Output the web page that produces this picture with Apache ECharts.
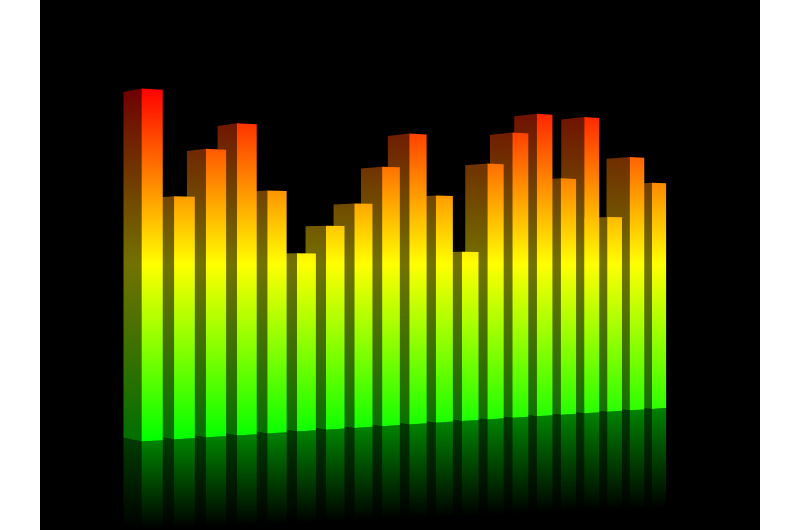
<!DOCTYPE html>
<html><head><meta charset="utf-8">
<style>html,body{margin:0;padding:0;background:#fff}#c{width:800px;height:530px}</style>
<script src="https://cdn.jsdelivr.net/npm/echarts@6/dist/echarts.min.js"></script>
</head><body><div id="c"></div>
<script>
const barValues = [100, 69.7, 83.7, 91.6, 72.1, 53.5, 61.9, 68.9, 80.5, 91.2, 72, 54.2, 82.8, 93.3, 100, 78.9, 99.9, 66.3, 87.1, 78.5];

// perspective of the scene (column, value, depth -> screen)
const C = 0.011895, E = 0.0214, D = -15.36, F = 3.147, J = 5.5;
const BAR = 0.65;
function renderBar(params, api) {
  const i = api.value(0), v = api.value(1);
  const P = (col, val, d) => {
    const s = api.coord([col, val]);
    const w = 1 + C * col + E * d;
    return [(s[0] + D * d) / w, (s[1] + F * col + J * d) / w];
  };
  const up = {type:'linear', x:0, y:88, x2:0, y2:441, global:true,
    colorStops:[{offset:0,color:'#ff0000'},{offset:0.5,color:'#ffff00'},{offset:1,color:'#00ff00'}]};
  const upSide = {type:'linear', x:0, y:88, x2:0, y2:441, global:true,
    colorStops:[{offset:0,color:'#6f0000'},{offset:0.5,color:'#727200'},{offset:1,color:'#006f00'}]};
  const depth = -(25 + 0.5 * i);
  const y0 = P(i, 0, 0)[1], y1 = P(i, depth, 0)[1];
  const fade = (c) => ({type:'linear', x:0, y:y0, x2:0, y2:y1, global:true,
    colorStops:[{offset:0,color:c},{offset:1,color:'#000000'}]});
  const poly = (pts, fill) => ({type:'polygon', z2:100 - i, shape:{points:pts}, style:{fill:fill}});
  const x0 = i, x1 = i + BAR;
  return {type:'group', children:[
    poly([P(x0,0,1),P(x0,0,0),P(x0,depth,0),P(x0,depth,1)], fade('#003a00')),
    poly([P(x0,0,0),P(x1,0,0),P(x1,depth,0),P(x0,depth,0)], fade('#008200')),
    poly([P(x0,0,1),P(x0,0,0),P(x0,v,0),P(x0,v,1)], upSide),
    poly([P(x0,0,0),P(x1,0,0),P(x1,v,0),P(x0,v,0)], up)
  ]};
}
const chart = echarts.init(document.getElementById('c'), null, {renderer:'canvas'});
chart.setOption({
  animation:false,
  backgroundColor:'#ffffff',
  graphic:[{type:'rect', silent:true, z:-10, shape:{x:40,y:0,width:720,height:530}, style:{fill:'#000'}}],
  grid:{left:141.5, top:88.5, width:657.8, height:353},
  xAxis:{type:'value', min:0, max:19, show:false},
  yAxis:{type:'value', min:0, max:100, show:false},
  series:[{type:'custom', clip:false, renderItem:renderBar,
    encode:{x:0,y:1},
    data:barValues.map((v,i)=>[i,v])}]
});
</script></body></html>
